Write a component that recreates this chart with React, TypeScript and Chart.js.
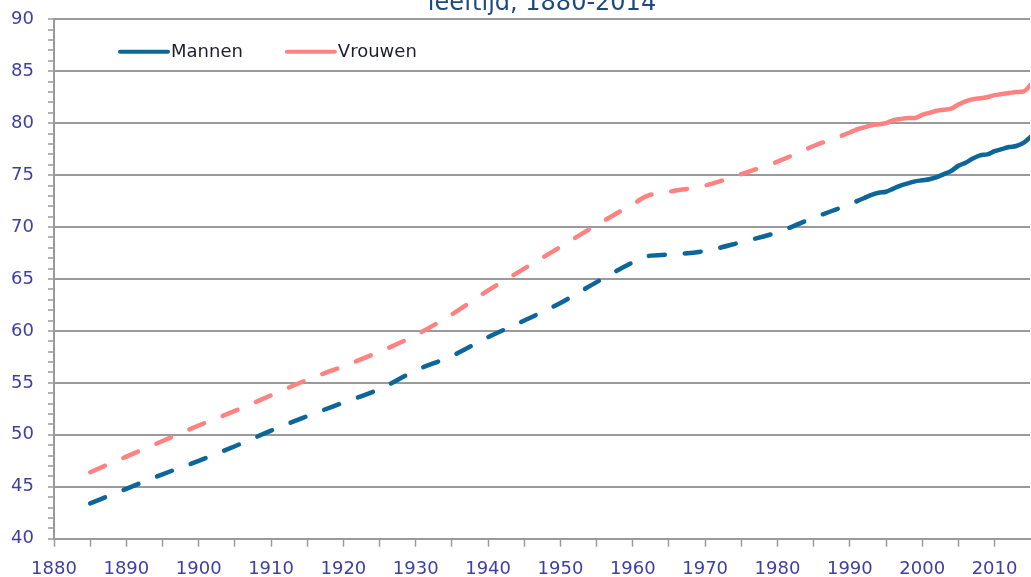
import React, { useEffect, useRef } from 'react';
import { Chart, registerables } from 'chart.js';

Chart.register(...registerables);

const titleText = 'leeftijd, 1880-2014';

const years = [
  1885, 1890, 1895, 1900, 1905, 1910, 1915, 1920, 1925, 1930, 1935, 1940, 1945, 1950,
  1955, 1960, 1962, 1965, 1970, 1975, 1980, 1985, 1990,
  1991, 1992, 1993, 1994, 1995, 1996, 1997, 1998, 1999, 2000, 2001, 2002, 2003, 2004,
  2005, 2006, 2007, 2008, 2009, 2010, 2011, 2012, 2013, 2014, 2015,
];

const mannen = [
  43.4, 44.8, 46.2, 47.5, 48.9, 50.4, 51.8, 53.1, 54.4, 56.2, 57.6, 59.4, 61.0, 62.7,
  64.7, 66.6, 67.2, 67.35, 67.7, 68.55, 69.5, 70.9, 72.2,
  72.5, 72.8, 73.1, 73.3, 73.4, 73.7, 74.0, 74.2, 74.4, 74.5, 74.6, 74.8, 75.1, 75.4,
  75.9, 76.2, 76.6, 76.9, 77.0, 77.3, 77.5, 77.7, 77.8, 78.1, 78.7,
];

const vrouwen = [
  46.4, 47.9, 49.4, 50.9, 52.3, 53.8, 55.3, 56.6, 58.0, 59.6, 61.6, 63.9, 66.0, 68.1,
  70.2, 72.2, 73.0, 73.4, 74.0, 75.1, 76.3, 77.8, 79.1,
  79.4, 79.6, 79.8, 79.9, 80.0, 80.3, 80.4, 80.5, 80.5, 80.8, 81.0, 81.2, 81.3, 81.4,
  81.8, 82.1, 82.3, 82.4, 82.5, 82.7, 82.8, 82.9, 83.0, 83.05, 83.7,
];

const seriesNames = ['Mannen', 'Vrouwen'];
const seriesColors = ['#0D6699', '#FF8282'];

const xMin = 1880;
const xMax = 2014.9;
const yMin = 40;
const yMax = 90;
const dashedBefore = 1991;

const FONT = 'DejaVu Sans';
const LABEL_COLOR = '#40409F';
const GRID_COLOR = '#9a9a9a';

const inlineLegend = {
  id: 'inlineLegend',
  afterDraw(chart: any) {
    const { ctx, chartArea } = chart;
    ctx.save();
    ctx.font = `18px "${FONT}"`;
    ctx.textBaseline = 'middle';
    ctx.textAlign = 'left';
    let x = chartArea.left + 66;
    const y = chartArea.top + 32.5;
    chart.data.datasets.forEach((ds: any) => {
      ctx.beginPath();
      ctx.strokeStyle = ds.borderColor;
      ctx.lineWidth = 4;
      ctx.lineCap = 'round';
      ctx.moveTo(x, y);
      ctx.lineTo(x + 48, y);
      ctx.stroke();
      ctx.fillStyle = '#1e1e2e';
      ctx.fillText(ds.label, x + 51, y + 1);
      x += 51 + ctx.measureText(ds.label).width + 44;
    });
    ctx.restore();
  },
};

export default function App() {
  const ref = useRef<HTMLCanvasElement | null>(null);

  useEffect(() => {
    if (!ref.current) return;
    const makeData = (vals: number[]) => years.map((x, i) => ({ x, y: vals[i] }));
    const dash = (ctx: any) => (ctx.p0.parsed.x < dashedBefore ? [16, 20] : undefined);
    const chart = new Chart(ref.current, {
      type: 'line',
      data: {
        datasets: [mannen, vrouwen].map((vals, i) => ({
          label: seriesNames[i],
          data: makeData(vals),
          borderColor: seriesColors[i],
          backgroundColor: seriesColors[i],
          borderWidth: 4.5,
          borderCapStyle: 'round',
          borderJoinStyle: 'round',
          pointRadius: 0,
          cubicInterpolationMode: 'monotone',
          segment: { borderDash: dash },
        })),
      },
      options: {
        animation: false,
        responsive: false,
        devicePixelRatio: 1,
        layout: { padding: 0 },
        plugins: {
          legend: { display: false },
          tooltip: { enabled: false },
          title: {
            display: true,
            text: titleText,
            fullSize: false,
            color: '#1F4A80',
            font: { family: FONT, size: 24, weight: 'normal', lineHeight: 1 },
            padding: { top: 0, bottom: 3.3 },
          },
        },
        scales: {
          x: {
            type: 'linear',
            min: xMin,
            max: xMax,
            afterFit: (s: any) => {
              s.height = 38.3;
            },
            ticks: {
              stepSize: 5,
              autoSkip: false,
              includeBounds: false,
              maxRotation: 0,
              padding: 13.5,
              color: LABEL_COLOR,
              font: { family: FONT, size: 18, lineHeight: 1 },
              callback: (v: any) => (Number(v) % 10 === 0 ? String(v) : ''),
            },
            grid: {
              drawOnChartArea: false,
              drawTicks: true,
              tickLength: 8,
              tickColor: GRID_COLOR,
              tickWidth: 1.5,
            },
            border: { color: GRID_COLOR, width: 2 },
          },
          y: {
            type: 'linear',
            min: yMin,
            max: yMax,
            afterFit: (s: any) => {
              s.width = 54;
            },
            ticks: {
              stepSize: 1,
              autoSkip: false,
              maxTicksLimit: 1000,
              padding: 14,
              color: LABEL_COLOR,
              font: { family: FONT, size: 18 },
              callback: (v: any) => (Number(v) % 5 === 0 ? String(v) : ''),
            },
            grid: {
              color: (c: any) => (c.tick && c.tick.value % 5 === 0 ? GRID_COLOR : 'rgba(0,0,0,0)'),
              lineWidth: 2,
              drawTicks: true,
              tickLength: 6,
              tickColor: GRID_COLOR,
              tickWidth: 1.5,
            },
            border: { color: GRID_COLOR, width: 2 },
          },
        },
      },
      plugins: [inlineLegend],
    } as any);
    return () => chart.destroy();
  }, []);

  return (
    <div style={{ position: 'absolute', left: 0, top: -8, width: 1031, height: 585, background: '#fff' }}>
      <canvas ref={ref} width={1031} height={585} />
    </div>
  );
}
